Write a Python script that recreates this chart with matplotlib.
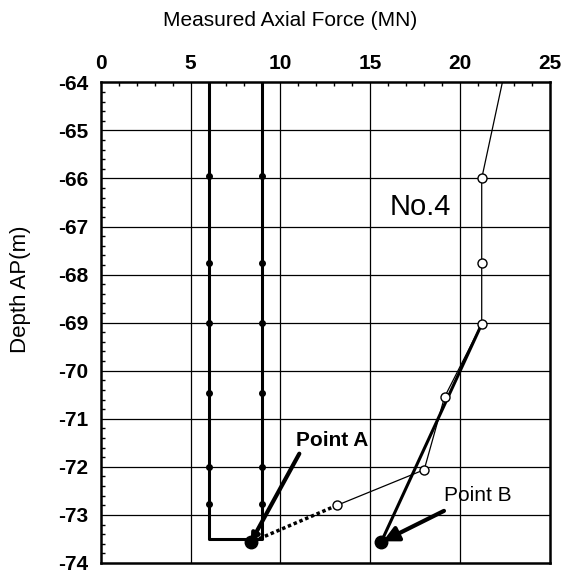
import matplotlib.pyplot as plt
from matplotlib.ticker import MultipleLocator

plt.rcParams['font.family'] = ['Liberation Sans', 'DejaVu Sans']

# gauge depths (m) and the three measured series
gauge_depth = [-65.95, -67.75, -69.0, -70.47, -72.0, -72.77]
force_left = [6.0] * 6
force_right = [9.0] * 6
u_force = [6.0, 6.0, 9.0, 9.0]
u_depth = [-64.0, -73.5, -73.5, -64.0]

open_force = [22.35, 21.2, 21.2, 21.2, 19.13, 18.0, 13.15]
open_depth = [-64.0, -66.0, -67.76, -69.03, -70.55, -72.06, -72.8]

point_a = (8.35, -73.57)
point_b = (15.6, -73.57)

fig = plt.figure(figsize=(5.74, 5.74), dpi=100)
ax = fig.add_axes([0.1754, 0.0192, 0.7828, 0.8374])

ax.set_xlim(0, 25)
ax.set_ylim(-74, -64)

# grid
for x in [5, 10, 15, 20]:
    ax.axvline(x, color='black', lw=0.9, zorder=1)
for y in range(-73, -64):
    ax.axhline(y, color='black', lw=0.9, zorder=1)

# thick U-shaped pair
ax.plot(u_force, u_depth, color='black', lw=2.2, zorder=3)
ax.plot(force_left, gauge_depth, 'o', color='black', ms=4, zorder=4)
ax.plot(force_right, gauge_depth, 'o', color='black', ms=4, zorder=4)

# thin line with open circles
ax.plot(open_force, open_depth, color='black', lw=0.9, zorder=3)
ax.plot(open_force[1:], open_depth[1:], 'o', mfc='white', mec='black',
        ms=6.5, mew=1, zorder=5)

# thick segment to point B, dotted to point A
ax.plot([open_force[3], point_b[0]], [open_depth[3], point_b[1]],
        color='black', lw=2.2, zorder=4)
ax.plot([open_force[-1], point_a[0]], [open_depth[-1], point_a[1]],
        color='black', lw=2.5, ls=(0, (1, 0.8)), zorder=4)
ax.plot(*point_a, 'o', color='black', ms=9, zorder=6)
ax.plot(*point_b, 'o', color='black', ms=9, zorder=6)

# annotations
ax.annotate('Point A', xy=point_a, xytext=(10.85, -71.45),
            fontsize=15, weight='bold', va='center', ha='left',
            arrowprops=dict(arrowstyle='-|>,head_width=0.15,head_length=0.3',
                            color='black', lw=3, shrinkA=0, shrinkB=0,
                            relpos=(0.05, -0.2)))
ax.annotate('Point B', xy=(point_b[0] + 0.1, point_b[1] + 0.02),
            xytext=(19.1, -72.6),
            fontsize=15, va='center', ha='left',
            arrowprops=dict(arrowstyle='-|>,head_width=0.3,head_length=0.6',
                            color='black', lw=3, shrinkA=0, shrinkB=0,
                            relpos=(0.0, -0.3)))
ax.text(16.1, -66.6, 'No.4', fontsize=21, va='center', ha='left')

# axes styling
ax.xaxis.tick_top()
ax.xaxis.set_major_locator(MultipleLocator(5))
ax.xaxis.set_minor_locator(MultipleLocator(1))
ax.yaxis.set_major_locator(MultipleLocator(1))
ax.yaxis.set_minor_locator(MultipleLocator(0.2))
ax.tick_params(which='both', direction='in', labelsize=15, width=1)
ax.tick_params(which='major', length=0, pad=9)
ax.tick_params(axis='x', which='major', pad=7)
ax.tick_params(which='minor', length=3)
ax.tick_params(axis='x', which='minor', top=True)
for s in ax.spines.values():
    s.set_linewidth(1.8)
ax.set_xticks([0, 5, 10, 15, 20, 25])
ax.set_xticklabels(['0', '5', '10', '15', '20', '25'], weight='bold')
ax.set_yticks(range(-74, -63))
ax.set_yticklabels([str(v) for v in range(-74, -63)], weight='bold')

fig.text(290 / 574, 1 - 20 / 574, 'Measured Axial Force (MN)',
         fontsize=15, ha='center', va='center')
fig.text(21 / 574, 1 - 289 / 574, 'Depth AP(m)', fontsize=16,
         rotation=90, ha='center', va='center')

fig.savefig('out.png', dpi=100)
